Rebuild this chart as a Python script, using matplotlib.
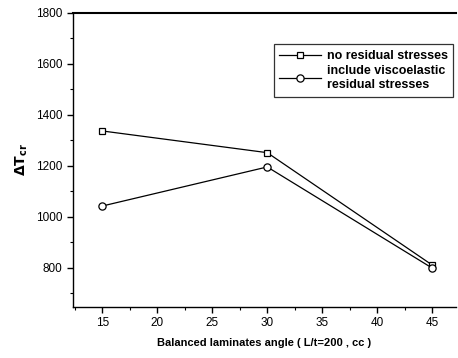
import matplotlib
matplotlib.use('Agg')
import matplotlib.pyplot as plt
from matplotlib.ticker import MultipleLocator

plt.rcParams['font.family'] = ['Liberation Sans', 'DejaVu Sans']

angles = [15, 30, 45]
no_residual = [1337, 1252, 812]
viscoelastic = [1043, 1196, 800]

fig = plt.figure(figsize=(4.58, 3.58), dpi=100)
ax = fig.add_axes([0.159, 0.1425, 0.837, 0.8215])

ax.plot(angles, no_residual, color='black', lw=0.9, marker='s', ms=4.8,
        mfc='white', mec='black', mew=0.9, label='no residual stresses')
ax.plot(angles, viscoelastic, color='black', lw=0.9, marker='o', ms=5.2,
        mfc='white', mec='black', mew=0.9,
        label='include viscoelastic\nresidual stresses')

ax.set_xlim(12.3, 47.2)
ax.set_ylim(647, 1800)
ax.xaxis.set_major_locator(MultipleLocator(5))
ax.xaxis.set_minor_locator(MultipleLocator(2.5))
ax.yaxis.set_major_locator(MultipleLocator(200))
ax.yaxis.set_minor_locator(MultipleLocator(100))
ax.tick_params(which='major', direction='out', length=4, width=1, labelsize=8.5)
ax.tick_params(which='minor', direction='out', length=2, width=0.8)

ax.spines['right'].set_visible(False)
ax.spines['top'].set_linewidth(1.5)
ax.spines['left'].set_linewidth(1.0)
ax.spines['bottom'].set_linewidth(1.0)

ax.set_xlabel('Balanced laminates angle ( L/t=200 , cc )', fontsize=8,
              fontweight='bold', labelpad=6)
ax.set_ylabel(r'$\mathbf{\Delta T_{cr}}$', fontsize=10, labelpad=4)

leg = ax.legend(loc='upper right', bbox_to_anchor=(0.993, 0.893),
                prop={'size': 9, 'weight': 'bold'}, frameon=True,
                fancybox=False, edgecolor='black', handlelength=3.3,
                borderpad=0.45, labelspacing=0.25, handletextpad=0.5,
                borderaxespad=0)
leg.get_frame().set_linewidth(0.9)

fig.savefig('out.png', dpi=100)
